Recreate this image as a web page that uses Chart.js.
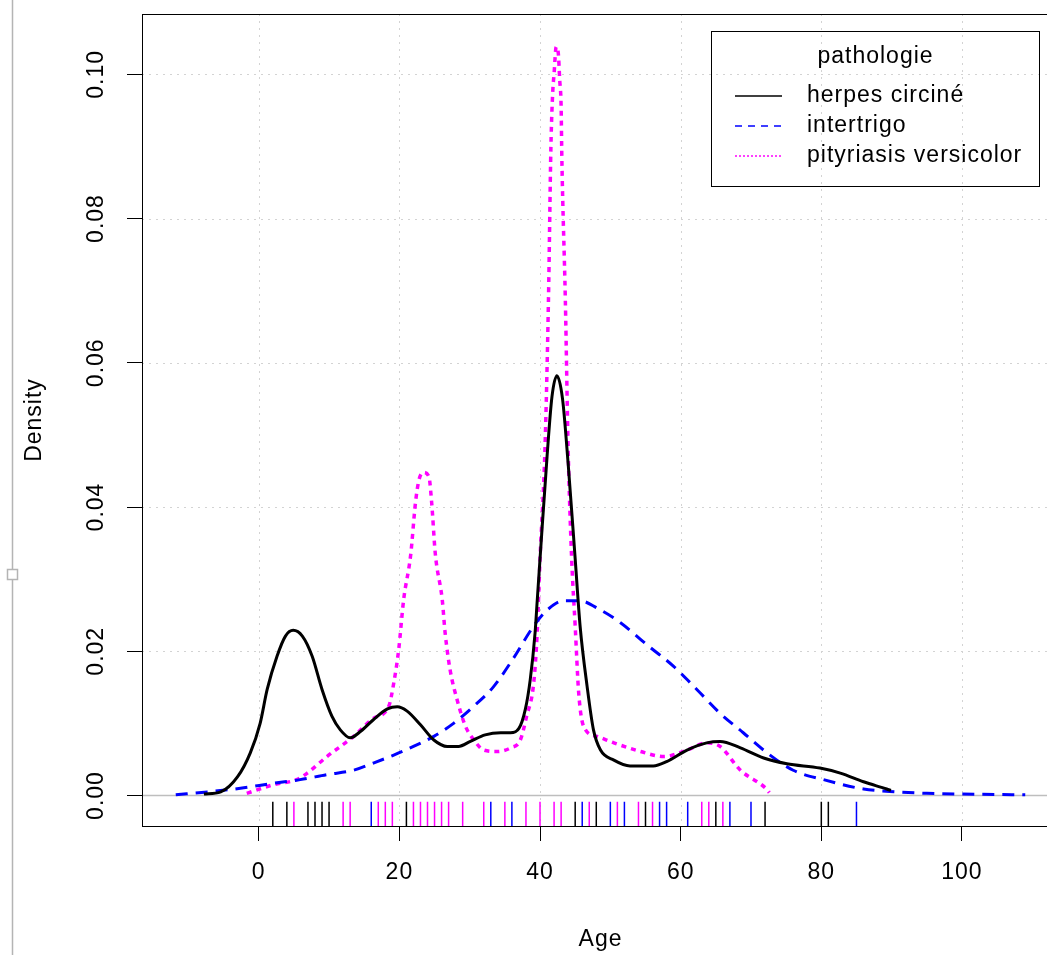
<!DOCTYPE html>
<html lang="fr">
<head>
<meta charset="utf-8">
<title>Densité de l'âge par pathologie</title>
<script src="https://cdn.jsdelivr.net/npm/chart.js@4.4.1/dist/chart.umd.min.js"></script>
<style>
  html, body { margin: 0; padding: 0; background: #fff; overflow: hidden; }
  #wrap { position: relative; width: 1065px; height: 955px; }
</style>
</head>
<body>
<div id="wrap"><canvas id="densityChart" width="1065" height="955"></canvas></div>
<script>
/* Age density per pathology, with a rug of the observed ages */

const seriesLabels = ['herpes circiné', 'intertrigo', 'pityriasis versicolor'];

// density curves (age -> density)
const herpesAge = [-7.8, -5.4, -3.0, -1.2, 0.2, 1.2, 2.6, 3.8, 4.9, 6.2, 7.6, 9.0, 10.4, 11.6, 13.0,
  14.5, 16.3, 18.3, 19.7, 21.1, 23.0, 24.9, 26.8, 28.4, 30.1, 32.2, 34.4, 35.8, 37.0, 37.9,
  38.6, 39.3, 39.6, 40.0, 41.0, 41.7, 42.4, 43.2, 44.0, 45.0, 45.7, 46.7, 47.6, 48.6, 50.5,
  52.8, 56.1, 58.0, 60.9, 63.7, 65.6, 68.5, 71.8, 75.1, 79.8, 82.7, 86.0, 89.3, 89.9];
const herpesDensity = [0.0002, 0.0005, 0.0026, 0.0059, 0.0100, 0.0147, 0.0193, 0.0221, 0.0229, 0.0221, 0.0193, 0.0147, 0.0110, 0.0091, 0.0080,
  0.0089, 0.0105, 0.0120, 0.0123, 0.0117, 0.0098, 0.0077, 0.0068, 0.0068, 0.0075, 0.0084, 0.0087, 0.0087, 0.0093, 0.0119,
  0.0160, 0.0226, 0.0270, 0.0328, 0.0470, 0.0553, 0.0582, 0.0550, 0.0460, 0.0328, 0.0235, 0.0151, 0.0091, 0.0063, 0.0049,
  0.0041, 0.0041, 0.0047, 0.0063, 0.0073, 0.0075, 0.0066, 0.0052, 0.0044, 0.0038, 0.0031, 0.0019, 0.0009, 0.0007];

const intertrigoAge = [-11.8, -7.3, -2.6, 2.1, 5.9, 9.7, 13.5, 16.3, 19.2, 22.0, 24.9, 27.7, 30.6, 33.4, 36.2,
  39.1, 41.0, 43.4, 45.7, 48.1, 51.4, 55.2, 59.0, 62.3, 65.6, 68.9, 72.3, 76.0, 80.3, 86.0,
  90.7, 95.0, 100.0, 109.0];
const intertrigoDensity = [0.0001, 0.0005, 0.0010, 0.0017, 0.0022, 0.0029, 0.0035, 0.0045, 0.0056, 0.0068, 0.0082, 0.0100, 0.0124, 0.0151, 0.0190,
  0.0235, 0.0257, 0.0270, 0.0270, 0.0260, 0.0240, 0.0209, 0.0179, 0.0147, 0.0114, 0.0087, 0.0059, 0.0035, 0.0022, 0.0009,
  0.0005, 0.0003, 0.0002, 0.0001];

const pityriasisAge = [-1.7, 2.1, 5.4, 6.9, 9.7, 13.5, 16.3, 18.5, 19.2, 19.9, 20.6, 21.6, 22.3, 22.8, 23.4,
  24.2, 24.6, 25.1, 26.1, 26.5, 27.2, 28.2, 29.4, 30.6, 32.0, 33.9, 35.8, 37.2, 38.1, 39.1,
  39.6, 40.0, 40.7, 41.2, 41.55, 41.8, 42.0, 42.3, 42.6, 42.8, 43.0, 43.1, 43.6, 44.0, 44.5,
  45.0, 45.5, 46.2, 48.1, 50.5, 54.3, 57.6, 60.9, 63.7, 65.6, 68.5, 72.3, 72.6];
const pityriasisDensity = [0.0003, 0.0015, 0.0022, 0.0031, 0.0054, 0.0082, 0.0107, 0.0124, 0.0156, 0.0202, 0.0271, 0.0333, 0.0407, 0.0438, 0.0448,
  0.0442, 0.0405, 0.0336, 0.0271, 0.0226, 0.0175, 0.0133, 0.0096, 0.0077, 0.0063, 0.0061, 0.0066, 0.0077, 0.0110, 0.0156,
  0.0226, 0.0328, 0.0480, 0.0687, 0.0900, 0.0974, 0.1001, 0.1038, 0.1029, 0.0992, 0.0955, 0.0886, 0.0687, 0.0480, 0.0328,
  0.0235, 0.0142, 0.0096, 0.0082, 0.0073, 0.0061, 0.0054, 0.0063, 0.0073, 0.0068, 0.0035, 0.0008, 0.0004];

// observed ages (rug under the curves)
const herpesRug = [2, 4, 7, 8, 9, 10, 21, 45, 48, 55, 65, 72, 80, 81];
const intertrigoRug = [16, 33, 36, 46, 50, 52, 57, 58, 61, 67, 70, 85];
const pityriasisRug = [5, 12, 13, 17, 18, 19, 22, 23, 24, 25, 26, 27, 29, 32, 35, 38, 40, 42, 43, 47, 51, 54, 56, 63, 64, 66];

// axes
const xTicks = [0, 20, 40, 60, 80, 100];
const yTicks = [0, 0.02, 0.04, 0.06, 0.08, 0.10];
const xRange = [-16.6, 113.8];
const yRange = [-0.00423, 0.10836];

const FONT = '"Liberation Sans", Arial, sans-serif';
const SPACING = '1px';

const toPoints = (xs, ys) => xs.map((x, i) => ({ x, y: ys[i] }));

document.addEventListener('DOMContentLoaded', () => {
  const ctxEl = document.getElementById('densityChart');

  // Dotted grid, zero line, rug, frame, y labels, titles and legend
  const rPlot = {
    id: 'rPlot',
    beforeDraw(chart) {
      chart.ctx.letterSpacing = SPACING;
    },
    beforeDatasetsDraw(chart) {
      const { ctx, chartArea: a, scales: { x, y } } = chart;
      ctx.save();
      ctx.strokeStyle = '#d3d3d3';
      ctx.lineWidth = 1;
      ctx.setLineDash([2, 5]);
      ctx.beginPath();
      xTicks.forEach(v => {
        const px = Math.round(x.getPixelForValue(v)) + 0.5;
        ctx.moveTo(px, a.top);
        ctx.lineTo(px, a.bottom);
      });
      yTicks.forEach(v => {
        const py = Math.round(y.getPixelForValue(v)) + 0.5;
        ctx.moveTo(a.left, py);
        ctx.lineTo(a.right, py);
      });
      ctx.stroke();

      // zero line
      ctx.setLineDash([]);
      ctx.strokeStyle = '#bebebe';
      ctx.lineWidth = 1.5;
      const y0 = y.getPixelForValue(0);
      ctx.beginPath();
      ctx.moveTo(a.left, y0);
      ctx.lineTo(a.right, y0);
      ctx.stroke();
      ctx.restore();
    },
    afterDatasetsDraw(chart) {
      const { ctx, chartArea: a, scales: { x } } = chart;
      const tick = (a.bottom - a.top) * 0.03;
      const rugs = [[herpesRug, '#000000'], [intertrigoRug, '#0000ff'], [pityriasisRug, '#ff00ff']];
      ctx.save();
      ctx.lineWidth = 1.5;
      rugs.forEach(([vals, col]) => {
        ctx.strokeStyle = col;
        ctx.beginPath();
        vals.forEach(v => {
          const px = x.getPixelForValue(v);
          ctx.moveTo(px, a.bottom);
          ctx.lineTo(px, a.bottom - tick);
        });
        ctx.stroke();
      });
      ctx.restore();
    },
    afterDraw(chart) {
      const { ctx, chartArea: a, scales: { y } } = chart;
      ctx.save();
      ctx.letterSpacing = SPACING;

      // plot frame
      ctx.strokeStyle = '#000';
      ctx.lineWidth = 1;
      ctx.strokeRect(Math.round(a.left) + 0.5, Math.round(a.top) + 0.5,
        Math.round(a.right - a.left), Math.round(a.bottom - a.top));

      // y tick labels, written upwards like R does
      ctx.fillStyle = '#000';
      ctx.font = '23px ' + FONT;
      ctx.textAlign = 'center';
      ctx.textBaseline = 'middle';
      yTicks.forEach(v => {
        ctx.save();
        ctx.translate(97, y.getPixelForValue(v));
        ctx.rotate(-Math.PI / 2);
        ctx.fillText(v.toFixed(2), 0, 0);
        ctx.restore();
      });

      // axis titles
      ctx.fillText('Age', (a.left + a.right) / 2, 940);
      ctx.save();
      ctx.translate(35, (a.top + a.bottom) / 2);
      ctx.rotate(-Math.PI / 2);
      ctx.fillText('Density', 0, 0);
      ctx.restore();

      // legend box
      const lg = { left: 711.5, top: 31.5, right: 1039.5, bottom: 186.5 };
      ctx.strokeRect(lg.left, lg.top, lg.right - lg.left, lg.bottom - lg.top);
      ctx.fillText('pathologie', (lg.left + lg.right) / 2, 57);
      const legendDash = [[], [7, 6], [2, 2]];
      const rows = [96, 126, 156];
      ctx.textAlign = 'left';
      chart.data.datasets.forEach((ds, i) => {
        ctx.save();
        ctx.strokeStyle = ds.borderColor;
        ctx.lineWidth = 1.5;
        ctx.setLineDash(legendDash[i]);
        ctx.beginPath();
        ctx.moveTo(735, rows[i]);
        ctx.lineTo(782, rows[i]);
        ctx.stroke();
        ctx.restore();
        ctx.fillText(ds.label, 807, rows[i]);
      });

      // window edge from the original screenshot
      ctx.strokeStyle = '#b4b4b4';
      ctx.lineWidth = 1.5;
      ctx.beginPath();
      ctx.moveTo(12.5, 0);
      ctx.lineTo(12.5, 955);
      ctx.stroke();
      ctx.fillStyle = '#fff';
      ctx.fillRect(7.5, 569.5, 10, 10);
      ctx.strokeRect(7.5, 569.5, 10, 10);
      ctx.restore();
    }
  };

  new Chart(ctxEl, {
    type: 'line',
    data: {
      datasets: [{
        label: seriesLabels[0],
        data: toPoints(herpesAge, herpesDensity),
        borderColor: '#000000',
        borderWidth: 3
      }, {
        label: seriesLabels[1],
        data: toPoints(intertrigoAge, intertrigoDensity),
        borderColor: '#0000ff',
        borderWidth: 3,
        borderDash: [12, 8]
      }, {
        label: seriesLabels[2],
        data: toPoints(pityriasisAge, pityriasisDensity),
        borderColor: '#ff00ff',
        borderWidth: 3.5,
        borderDash: [5, 5]
      }]
    },
    options: {
      responsive: false,
      animation: false,
      devicePixelRatio: 1,
      layout: { padding: { top: 14, right: 6, left: 0, bottom: 0 } },
      elements: {
        point: { radius: 0, hoverRadius: 0 },
        line: { cubicInterpolationMode: 'monotone', fill: false, borderCapStyle: 'butt' }
      },
      plugins: {
        legend: { display: false },
        tooltip: { enabled: false }
      },
      scales: {
        x: {
          type: 'linear',
          min: xRange[0],
          max: xRange[1],
          afterBuildTicks: s => { s.ticks = xTicks.map(v => ({ value: v })); },
          afterFit: s => { s.height = 129; },
          grid: { drawOnChartArea: false, tickLength: 15, tickColor: '#000', tickWidth: 1, color: '#000' },
          border: { display: false },
          ticks: {
            autoSkip: false,
            maxRotation: 0,
            padding: 18,
            color: '#000',
            font: { family: FONT, size: 23 }
          }
        },
        y: {
          type: 'linear',
          min: yRange[0],
          max: yRange[1],
          afterBuildTicks: s => { s.ticks = yTicks.map(v => ({ value: v })); },
          afterFit: s => { s.width = 142; },
          grid: { drawOnChartArea: false, tickLength: 15, tickColor: '#000', tickWidth: 1, color: '#000' },
          border: { display: false },
          ticks: { display: false }
        }
      }
    },
    plugins: [rPlot]
  });
});
</script>
</body>
</html>
